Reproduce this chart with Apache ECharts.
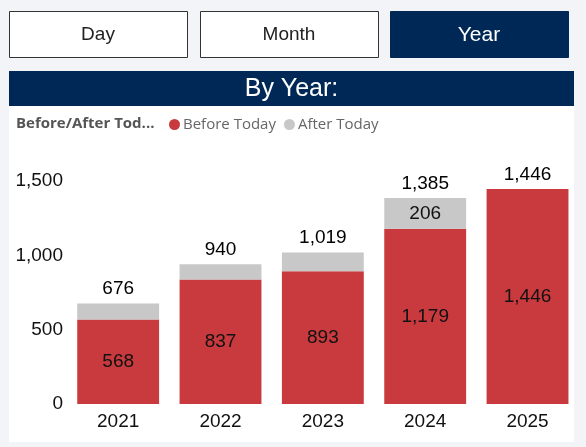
<!DOCTYPE html>
<html>
<head>
<meta charset="utf-8">
<script src="https://cdn.jsdelivr.net/npm/echarts@6/dist/echarts.min.js"></script>
<style>
  html, body { margin: 0; padding: 0; background: #F3F4F8; }
  #chart { width: 586px; height: 447px; }
</style>
</head>
<body>
<div id="chart"></div>
<script>
const categories = ['2021', '2022', '2023', '2024', '2025'];
const beforeToday = [568, 837, 893, 1179, 1446];
const afterToday = [108, 103, 126, 206, 0];
const totals = [676, 940, 1019, 1385, 1446];
const yTicks = [0, 500, 1000, 1500];
const buttons = ['Day', 'Month', 'Year'];
const activeButton = 'Year';
const panelTitle = 'By Year:';
const legendTitle = 'Before/After Tod...';

const fmt = v => Number(v).toLocaleString('en-US');
const NAVY = '#002856';
const RED = '#C83A3D';
const GREY = '#C8C8C8';
const FONT = '"Liberation Sans", Arial, sans-serif';
const UIFONT = '"Open Sans", "Noto Sans", sans-serif';

const chart = echarts.init(document.getElementById('chart'));

const btnX = [9, 200, 390];
const btnW = 178;
const graphics = [
  { type: 'rect', silent: true, z: -10, shape: { x: 9, y: 71, width: 565, height: 371 }, style: { fill: '#FFFFFF' } },
  { type: 'rect', silent: true, shape: { x: 9, y: 71, width: 565, height: 35 }, style: { fill: NAVY } },
  { type: 'text', silent: true, style: { text: panelTitle, x: 291.5, y: 89, textAlign: 'center', textVerticalAlign: 'middle', fill: '#FFFFFF', font: '25px ' + FONT } }
];
buttons.forEach((b, i) => {
  const active = b === activeButton;
  graphics.push({ type: 'rect', silent: true, shape: { x: btnX[i] + 0.5, y: 11.5, width: btnW, height: 46 },
    style: { fill: active ? NAVY : '#FFFFFF', stroke: active ? NAVY : '#333333', lineWidth: 1 } });
  graphics.push({ type: 'text', silent: true, style: { text: b, x: btnX[i] + btnW / 2, y: 35, textAlign: 'center', textVerticalAlign: 'middle',
    fill: active ? '#FFFFFF' : '#222222', font: (active ? '21px ' : '19px ') + FONT } });
});

chart.setOption({
  animation: false,
  backgroundColor: 'transparent',
  graphic: graphics,
  title: {
    text: legendTitle, left: 16, top: 116, padding: 0,
    textStyle: { fontFamily: UIFONT, fontSize: 15, fontWeight: 'bold', color: '#555555' }
  },
  legend: {
    data: ['Before Today', 'After Today'],
    left: 169, top: 117, padding: 0,
    icon: 'circle', itemWidth: 11, itemHeight: 11, itemGap: 8,
    textStyle: { fontFamily: UIFONT, fontSize: 15, color: '#666666', padding: [0, 0, 0, -2] }
  },
  grid: { left: 67, right: 7.3, top: 181, bottom: 43 },
  xAxis: {
    type: 'category', data: categories,
    axisLine: { show: false }, axisTick: { show: false },
    axisLabel: { fontFamily: FONT, fontSize: 19, color: '#111111', margin: 8 }
  },
  yAxis: {
    type: 'value', min: yTicks[0], max: yTicks[yTicks.length - 1], interval: yTicks[1] - yTicks[0],
    splitLine: { show: false }, axisLine: { show: false }, axisTick: { show: false },
    axisLabel: { fontFamily: FONT, fontSize: 19, color: '#111111', margin: 4, formatter: v => fmt(v) }
  },
  series: [
    {
      name: 'Before Today', type: 'bar', stack: 'total', data: beforeToday,
      barCategoryGap: '20%', itemStyle: { color: RED },
      label: { show: true, position: 'inside', fontFamily: FONT, fontSize: 19, color: '#111111', formatter: p => fmt(p.value) }
    },
    {
      name: 'After Today', type: 'bar', stack: 'total', data: afterToday,
      barCategoryGap: '20%', itemStyle: { color: GREY },
      label: { show: true, position: 'inside', fontFamily: FONT, fontSize: 19, color: '#111111',
        formatter: p => (p.value >= 150 ? fmt(p.value) : '') }
    },
    {
      name: 'Total', type: 'scatter', data: totals, symbolSize: 0.1,
      itemStyle: { color: 'rgba(0,0,0,0)', opacity: 1 }, silent: true,
      label: { show: true, position: 'top', distance: 5, fontFamily: FONT, fontSize: 19, color: '#000000', opacity: 1, formatter: p => fmt(p.value) }
    }
  ]
});
</script>
</body>
</html>
